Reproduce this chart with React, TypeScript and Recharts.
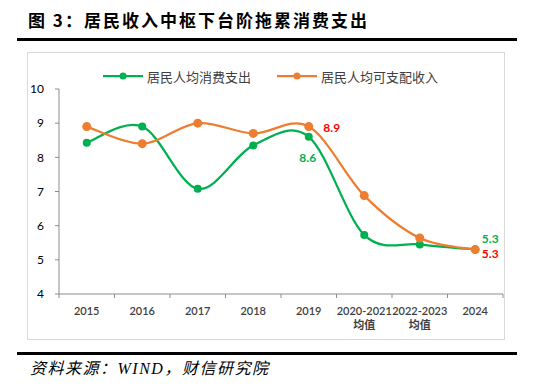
import { LineChart, Line, XAxis, YAxis, Legend, LabelList } from 'recharts'

const categories = ['2015', '2016', '2017', '2018', '2019', '2020-2021\n均值', '2022-2023\n均值', '2024']
const consumption = [8.43, 8.9, 7.08, 8.35, 8.6, 5.73, 5.45, 5.3]
const income = [8.9, 8.4, 9.0, 8.7, 8.9, 6.88, 5.64, 5.3]
const yTicks = [4, 5, 6, 7, 8, 9, 10]

const GREEN = '#00B050'
const ORANGE = '#ED7D31'
const RED = '#FF0000'
const AXIS = '#8c8c8c'
const NUM_FONT = 'Lato, "Noto Sans CJK SC", sans-serif'

const CW = 478
const CH = 288
const LEGEND_H = 20
// top margin = plot top (37) minus the legend's own height, which recharts adds
const M = { top: 37 - LEGEND_H, right: 2, left: 0, bottom: 0 }
const Y_W = 32
const BAND = (CW - Y_W - M.right) / categories.length

const data = categories.map((c, i) => ({ cat: c, consumption: consumption[i], income: income[i] }))

// excel-ish smoothing (catmull-rom through the points)
function excelCurve(ctx: any) {
  let pts: number[][] = []
  return {
    areaStart() {},
    areaEnd() {},
    lineStart() { pts = [] },
    lineEnd() {
      if (!pts.length) return
      ctx.moveTo(pts[0][0], pts[0][1])
      for (let i = 0; i < pts.length - 1; i++) {
        const p0 = pts[i - 1] || pts[i]
        const p1 = pts[i]
        const p2 = pts[i + 1]
        const p3 = pts[i + 2] || pts[i + 1]
        ctx.bezierCurveTo(
          p1[0] + (p2[0] - p0[0]) / 6, p1[1] + (p2[1] - p0[1]) / 6,
          p2[0] - (p3[0] - p1[0]) / 6, p2[1] - (p3[1] - p1[1]) / 6,
          p2[0], p2[1]
        )
      }
    },
    point(x: number, y: number) { pts.push([+x, +y]) },
  }
}

function XTick({ x, y, payload }: any) {
  const idx = categories.indexOf(payload.value)
  const lines = String(payload.value).split('\n')
  const h = BAND / 2
  return (
    <g>
      <line x1={x - h} x2={x - h} y1={y} y2={y + 4} stroke={AXIS} />
      {idx === categories.length - 1 && <line x1={x + h} x2={x + h} y1={y} y2={y + 4} stroke={AXIS} />}
      {lines.map((t, i) => (
        <text key={i} x={x} y={y + 16 + i * 14} textAnchor="middle" dominantBaseline="central"
          fontSize={11} fontWeight={600} fill="#404040" fontFamily={NUM_FONT}>{t}</text>
      ))}
    </g>
  )
}

// which points get a value label, and where
const greenLabels: Record<number, [number, number]> = { 4: [-1, 21], 7: [15, -11] }
const orangeLabels: Record<number, [number, number]> = { 4: [23, 1], 7: [15, 4] }

const makeLabel = (spots: Record<number, [number, number]>, color: string) => (p: any) => {
  const off = spots[p.index]
  if (!off) return null
  return (
    <text x={p.x + off[0]} y={p.y + off[1]} textAnchor="middle" dominantBaseline="central"
      fontSize={12} fontWeight={700} fill={color} fontFamily={NUM_FONT}>
      {Number(p.value).toFixed(1)}
    </text>
  )
}

function LegendBox() {
  const item = (color: string, label: string, left: number, r: number) => (
    <div style={{ position: 'absolute', left, top: 0, height: LEGEND_H, display: 'flex', alignItems: 'center' }}>
      <svg width={42} height={LEGEND_H}>
        <line x1={0} x2={40} y1={10} y2={10} stroke={color} strokeWidth={2.25} />
        <circle cx={20} cy={10} r={r} fill={color} />
      </svg>
      <span style={{ fontSize: 13, color: '#404040', fontFamily: '"Noto Sans CJK SC", sans-serif', marginLeft: 2 }}>{label}</span>
    </div>
  )
  return (
    <div style={{ position: 'relative', width: CW, height: LEGEND_H }}>
      {item(GREEN, '居民人均消费支出', 76, 3.5)}
      {item(ORANGE, '居民人均可支配收入', 250, 3.5)}
    </div>
  )
}

export default function App() {
  return (
    <div style={{ position: 'absolute', left: 0, top: 0, width: 535, height: 391, background: '#fff' }}>
      <div style={{
        position: 'absolute', left: 28, top: 9, fontSize: 17, fontWeight: 700, letterSpacing: 2,
        fontFamily: '"Noto Sans CJK SC", sans-serif', color: '#000', lineHeight: '22px',
      }}>图 3：居民收入中枢下台阶拖累消费支出</div>
      <div style={{ position: 'absolute', left: 17, top: 38, width: 500, height: 2.5, background: '#000' }} />

      <div style={{ position: 'absolute', left: 27, top: 52, width: CW, height: CH, border: '1px solid #d9d9d9', boxSizing: 'border-box' }} />
      <div style={{ position: 'absolute', left: 27, top: 52 }}>
        <LineChart width={CW} height={CH} data={data} margin={M}>
          <XAxis dataKey="cat" interval={0} tickLine={false} tickSize={0} tickMargin={0}
            padding={{ left: BAND / 2, right: BAND / 2 }}
            stroke={AXIS} height={46} tick={<XTick />} />
          <YAxis domain={[4, 10]} ticks={yTicks} width={Y_W} stroke={AXIS} tickSize={4} tickMargin={11}
            tick={{ fontSize: 12, fill: '#000', fontFamily: NUM_FONT }} />
          <Legend verticalAlign="top" height={LEGEND_H} content={() => <LegendBox />}
            wrapperStyle={{ top: 14, left: 0, width: CW }} />
          <Line type={excelCurve as any} dataKey="consumption" stroke={GREEN} strokeWidth={2.25}
            dot={{ r: 4, fill: GREEN, stroke: GREEN, strokeWidth: 0 }} isAnimationActive={false}>
            <LabelList dataKey="consumption" content={makeLabel(greenLabels, GREEN)} />
          </Line>
          <Line type={excelCurve as any} dataKey="income" stroke={ORANGE} strokeWidth={2.25}
            dot={{ r: 4.5, fill: ORANGE, stroke: ORANGE, strokeWidth: 0 }} isAnimationActive={false}>
            <LabelList dataKey="income" content={makeLabel(orangeLabels, RED)} />
          </Line>
        </LineChart>
      </div>

      <div style={{ position: 'absolute', left: 17, top: 352, width: 500, height: 2.5, background: '#000' }} />
      <div style={{
        position: 'absolute', left: 30, top: 358, fontSize: 16, fontStyle: 'italic', letterSpacing: 1.5,
        fontFamily: '"Liberation Serif", "Noto Sans CJK SC", serif', color: '#000', lineHeight: '22px',
      }}>资料来源：WIND，财信研究院</div>
    </div>
  )
}
